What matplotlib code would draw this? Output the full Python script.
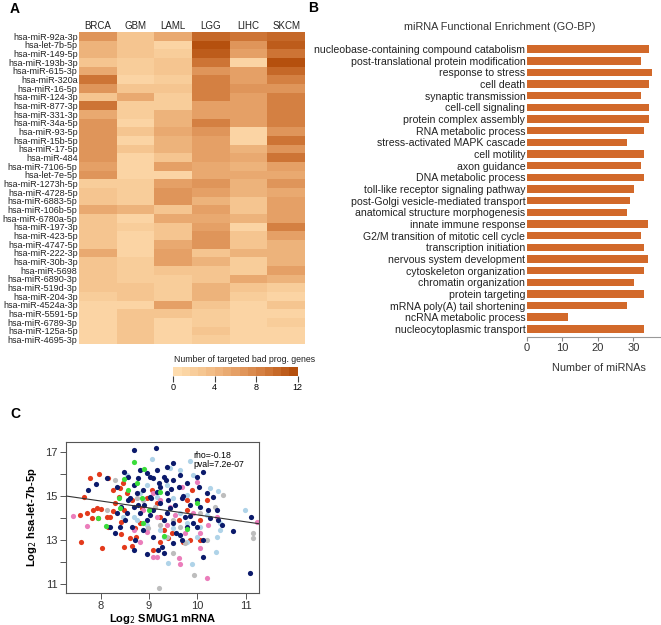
import numpy as np
import matplotlib
matplotlib.use("Agg")
import matplotlib.pyplot as plt
from matplotlib.colors import LinearSegmentedColormap
from matplotlib.ticker import FixedLocator

plt.rcParams['font.family'] = ['Liberation Sans', 'DejaVu Sans']

# ---------------- Panel A data ----------------
cancers = ["BRCA", "GBM", "LAML", "LGG", "LIHC", "SKCM"]
mirnas = ["hsa-miR-92a-3p", "hsa-let-7b-5p", "hsa-miR-149-5p", "hsa-miR-193b-3p",
          "hsa-miR-615-3p", "hsa-miR-320a", "hsa-miR-16-5p", "hsa-miR-124-3p",
          "hsa-miR-877-3p", "hsa-miR-331-3p", "hsa-miR-34a-5p", "hsa-miR-93-5p",
          "hsa-miR-15b-5p", "hsa-miR-17-5p", "hsa-miR-484", "hsa-miR-7106-5p",
          "hsa-let-7e-5p", "hsa-miR-1273h-5p", "hsa-miR-4728-5p", "hsa-miR-6883-5p",
          "hsa-miR-106b-5p", "hsa-miR-6780a-5p", "hsa-miR-197-3p", "hsa-miR-423-5p",
          "hsa-miR-4747-5p", "hsa-miR-222-3p", "hsa-miR-30b-3p", "hsa-miR-5698",
          "hsa-miR-6890-3p", "hsa-miR-519d-3p", "hsa-miR-204-3p", "hsa-miR-4524a-3p",
          "hsa-miR-5591-5p", "hsa-miR-6789-3p", "hsa-miR-125a-5p", "hsa-miR-4695-3p"]
heat_values = [
    [7, 3, 5, 10, 9, 10],
    [4, 3, 1, 12, 7, 11],
    [4, 3, 2, 11, 6, 9],
    [3, 2, 3, 9, 1, 12],
    [5, 2, 3, 7, 6, 10],
    [9, 1, 2, 8, 6, 8],
    [7, 3, 3, 8, 7, 7],
    [3, 5, 2, 8, 6, 8],
    [9, 2, 2, 6, 6, 8],
    [5, 2, 4, 6, 6, 8],
    [7, 1, 4, 8, 6, 8],
    [7, 3, 5, 7, 1, 7],
    [7, 1, 4, 6, 1, 9],
    [7, 3, 4, 6, 4, 7],
    [7, 1, 3, 6, 5, 9],
    [6, 1, 6, 5, 4, 6],
    [7, 1, 1, 5, 5, 5],
    [2, 2, 6, 7, 4, 7],
    [3, 2, 7, 6, 4, 5],
    [3, 2, 7, 4, 3, 6],
    [5, 4, 3, 6, 3, 6],
    [3, 1, 5, 5, 4, 6],
    [3, 2, 3, 6, 1, 8],
    [3, 1, 3, 7, 3, 6],
    [3, 1, 5, 7, 3, 4],
    [5, 1, 6, 3, 4, 4],
    [3, 2, 6, 4, 2, 4],
    [3, 2, 3, 3, 2, 6],
    [3, 2, 2, 3, 5, 4],
    [3, 3, 2, 4, 3, 2],
    [2, 3, 2, 4, 2, 1],
    [1, 1, 6, 3, 1, 3],
    [1, 3, 3, 2, 1, 1],
    [1, 3, 1, 2, 1, 2],
    [1, 3, 1, 3, 1, 1],
    [1, 3, 1, 2, 1, 1],
]
cbar_ticks = [0, 4, 8, 12]

# ---------------- Panel B data ----------------
go_terms = ["nucleobase-containing compound catabolism", "post-translational protein modification",
            "response to stress", "cell death", "synaptic transmission", "cell-cell signaling",
            "protein complex assembly", "RNA metabolic process", "stress-activated MAPK cascade",
            "cell motility", "axon guidance", "DNA metabolic process",
            "toll-like receptor signaling pathway", "post-Golgi vesicle-mediated transport",
            "anatomical structure morphogenesis", "innate immune response",
            "G2/M transition of mitotic cell cycle", "transcription initiation",
            "nervous system development", "cytoskeleton organization", "chromatin organization",
            "protein targeting", "mRNA poly(A) tail shortening", "ncRNA metabolic process",
            "nucleocytoplasmic transport"]
go_counts = [34.3, 32.1, 35.2, 34.3, 32.1, 34.3, 34.3, 33.1, 28.2, 33.1, 32.1, 33.1, 30.1,
             29.2, 28.2, 34.2, 32.1, 33.1, 34.2, 33.1, 30.1, 33.1, 28.2, 11.5, 33.1]
bar_ticks = [0, 10, 20, 30]

# ---------------- Panel C data ----------------
red_x = [7.77, 7.97, 8.15, 7.66, 7.57, 7.72, 7.85, 7.92, 8.0, 7.81, 7.95, 8.12, 8.02, 7.6, 8.16,
         8.19, 8.26, 8.3, 8.37, 8.26, 8.4, 8.47, 8.54, 8.64, 8.48, 8.41, 8.43, 8.48, 8.64, 8.61,
         8.74, 8.71, 8.81, 8.85, 8.95, 9.06, 9.16, 9.23, 9.3, 9.4, 9.47, 9.61, 9.78, 9.88, 9.78,
         10.06, 10.19, 9.85, 9.7, 9.09, 9.23, 10.06]
red_y = [15.79, 15.97, 15.79, 14.92, 14.12, 14.23, 14.35, 14.45, 14.39, 14.0, 14.0, 14.05, 12.62,
         12.88, 13.59, 14.05, 14.32, 14.65, 14.95, 15.26, 15.33, 15.56, 15.14, 14.8, 14.35, 13.82,
         13.26, 12.68, 12.71, 13.06, 13.14, 13.52, 13.74, 14.42, 14.88, 15.26, 14.65, 14.05, 13.44,
         13.06, 13.29, 13.89, 14.35, 15.26, 14.8, 13.89, 14.8, 12.98, 12.91, 12.53, 12.91, 12.98]
lblue_x = [9.06, 9.85, 8.54, 9.43, 9.64, 9.92, 10.26, 10.43, 10.19, 10.47, 10.4, 10.39, 9.4, 9.88,
           10.99, 8.81, 9.16, 9.5, 9.78, 8.68, 8.95, 9.23, 9.5, 9.78, 10.06, 9.99, 9.78, 8.75,
           8.47, 8.95, 9.37, 9.64, 9.3, 10.47]
lblue_y = [16.65, 16.58, 15.94, 16.24, 16.17, 15.94, 15.33, 15.23, 14.12, 13.74, 13.14, 12.45,
           11.92, 11.89, 14.35, 15.11, 14.95, 14.88, 15.03, 14.05, 13.67, 13.44, 13.52, 13.74,
           13.59, 13.14, 12.91, 13.89, 14.05, 15.48, 15.48, 14.2, 13.14, 13.44]
gray_x = [9.21, 9.93, 11.16, 11.16, 10.54, 10.37, 10.19, 8.12, 8.3, 8.88, 9.23, 9.5, 9.64, 9.12,
          9.37, 10.06, 9.5, 9.75, 8.75, 8.98]
gray_y = [10.82, 11.39, 13.29, 13.06, 15.03, 14.5, 12.98, 14.35, 15.71, 14.8, 13.67, 13.89, 13.59,
          14.5, 13.14, 14.2, 12.41, 12.83, 14.88, 13.52]
pink_x = [7.42, 7.72, 9.99, 9.68, 9.09, 9.23, 9.54, 9.75, 10.06, 10.22, 10.4, 11.23, 9.09, 9.16,
          9.61, 9.64, 10.19, 8.68, 8.81, 8.95, 9.37, 9.16, 9.92, 9.44, 10.06, 8.88]
pink_y = [14.08, 13.62, 15.64, 15.41, 15.11, 14.8, 14.12, 13.29, 13.29, 13.67, 14.05, 13.82, 12.23,
          12.23, 12.15, 11.89, 11.24, 13.44, 12.91, 13.36, 13.67, 14.05, 14.2, 14.5, 12.62, 14.35]
navy_x = [8.68, 9.14, 7.74, 7.91, 8.12, 8.19, 8.33, 8.48, 8.57, 8.68, 8.81, 8.95, 9.09, 9.16, 9.3,
          9.49, 9.23, 9.37, 9.5, 9.64, 9.78, 9.99, 10.12, 10.03, 10.19, 10.33, 10.4, 10.5, 10.74,
          11.12, 11.08, 10.12, 10.12, 9.92, 9.78, 9.64, 9.5, 9.37, 9.23, 9.09, 8.95, 8.81, 8.68,
          8.54, 8.43, 8.33, 8.3, 8.4, 8.68, 8.95, 9.19, 9.3, 9.26, 9.5, 9.68, 9.09, 8.88, 8.75,
          8.88, 9.02, 9.16, 9.4, 9.54, 9.68, 9.85, 9.99, 10.06, 10.22, 10.26, 10.43, 8.57, 8.64,
          8.78, 9.02, 9.3, 9.44, 9.75, 9.02, 9.37, 8.78, 9.61, 8.6, 8.9, 9.2, 9.45, 9.7, 8.5,
          9.55, 9.05, 9.85, 8.7, 9.35, 10.0]
navy_y = [17.1, 17.18, 15.26, 15.53, 15.79, 13.59, 15.41, 16.09, 15.86, 15.48, 16.17, 16.02, 15.79,
          16.17, 15.86, 16.47, 15.41, 15.11, 15.71, 15.94, 15.56, 15.86, 16.09, 15.41, 15.11,
          14.95, 14.35, 13.67, 13.41, 14.05, 11.47, 12.23, 12.98, 13.74, 13.59, 13.21, 13.74,
          14.2, 14.65, 14.35, 13.89, 14.2, 14.5, 14.2, 14.5, 14.2, 13.29, 13.59, 12.53, 12.35,
          12.53, 12.38, 12.68, 12.83, 12.98, 13.14, 13.44, 15.11, 15.26, 14.95, 15.18, 14.8,
          14.58, 14.88, 14.58, 14.8, 14.5, 14.35, 13.97, 13.89, 14.8, 13.59, 14.58, 14.12, 13.89,
          14.42, 14.05, 15.86, 16.32, 15.79, 15.41, 14.9, 14.6, 15.6, 15.3, 15.0, 13.9, 13.3,
          14.9, 14.1, 13.0, 15.7, 13.6]
green_x = [8.68, 8.9, 8.49, 8.37, 8.4, 7.94, 8.11, 8.57, 8.85, 8.99, 9.23, 9.99, 9.3, 9.78, 8.88,
           8.75]
green_y = [16.55, 16.23, 15.76, 14.88, 14.42, 14.0, 13.64, 15.26, 14.88, 14.35, 15.18, 14.68, 13.17,
           13.48, 13.74, 15.59]
fit_intercept = 17.284
fit_slope = -0.3154
rho_text = "rho=-0.18"
pval_text = "pval=7.2e-07"

# ---------------- Figure ----------------
W, H = 661, 625
fig = plt.figure(figsize=(W / 100, H / 100), dpi=100)

def fx(px):
    return px / W

def fy(py):
    return 1 - py / H

cmap = LinearSegmentedColormap.from_list(
    "peach", ["#FEDCAE", "#F4C28C", "#E5A066", "#D27B3C", "#B5500E"], N=15)

# ---- Panel A ----
axA = fig.add_axes([fx(79), fy(344), fx(305 - 79), (344 - 32) / H])
data = np.array(heat_values, dtype=float)
im = axA.imshow(data, cmap=cmap, vmin=0, vmax=12, aspect="auto", interpolation="nearest")
axA.set_xticks(np.arange(len(cancers)))
axA.set_xticklabels(cancers, fontsize=7, color="#222222")
axA.xaxis.tick_top()
axA.set_yticks(np.arange(len(mirnas)))
axA.set_yticklabels(mirnas, fontsize=6.5, color="#222222")
axA.tick_params(axis="y", length=0, pad=1)
axA.tick_params(axis="x", length=0, pad=1)
for s in axA.spines.values():
    s.set_visible(False)

caxA = fig.add_axes([fx(173.3), fy(375.7), fx(297.7 - 173.3), 8.4 / H])
cb = fig.colorbar(im, cax=caxA, orientation="horizontal", ticks=cbar_ticks)
cb.outline.set_visible(False)
caxA.tick_params(labelsize=6.5, length=4, width=0.8, color="#444444", pad=1)
fig.text(fx(173.5), fy(360), "Number of targeted bad prog. genes", fontsize=6.3,
         ha="left", va="center", color="#222222")

# ---- Panel B ----
axB = fig.add_axes([fx(526.7), fy(337), fx(660 - 526.7), (337 - 41) / H])
ypos = np.arange(len(go_terms))
axB.barh(ypos, go_counts, height=0.65, color="#D2692A")
axB.set_ylim(len(go_terms) - 1 + 0.69, -0.69)
axB.set_xlim(0, 37.5)
axB.set_yticks(ypos)
axB.set_yticklabels(go_terms, fontsize=7.6, color="#222222")
axB.tick_params(axis="y", length=0, pad=1)
axB.set_xticks(bar_ticks)
axB.tick_params(axis="x", labelsize=8, length=3, color="#888888", labelcolor="#333333", pad=1)
for k in ["top", "right", "left"]:
    axB.spines[k].set_visible(False)
axB.spines["bottom"].set_color("#999999")
fig.text(fx(500), fy(27), "miRNA Functional Enrichment (GO-BP)", fontsize=7.8,
         ha="center", va="center", color="#333333")
fig.text(fx(599), fy(368), "Number of miRNAs", fontsize=7.8, ha="center", va="center",
         color="#333333")

# ---- Panel C ----
axC = fig.add_axes([fx(65.7), fy(592.7), fx(258.7 - 65.7), (592.7 - 442.3) / H])
ms = 14
axC.scatter(red_x, red_y, s=ms, color="#E33A1C", linewidths=0, zorder=2)
axC.scatter(lblue_x, lblue_y, s=ms, color="#AFD3E8", linewidths=0, zorder=2)
axC.scatter(gray_x, gray_y, s=ms, color="#BDBDBD", linewidths=0, zorder=2)
axC.scatter(pink_x, pink_y, s=ms, color="#EB7DBB", linewidths=0, zorder=2)
axC.scatter(navy_x, navy_y, s=ms, color="#0B1A6B", linewidths=0, zorder=2)
axC.scatter(green_x, green_y, s=ms, color="#3BDD3B", linewidths=0, zorder=2)
axC.set_xlim(7.275, 11.27)
axC.set_ylim(10.59, 17.43)
xl = np.array(axC.get_xlim())
axC.plot(xl, fit_intercept + fit_slope * xl, color="#333333", lw=0.8, zorder=3)
axC.set_xticks([8, 9, 10, 11])
axC.set_yticks([11, 13, 15, 17])
axC.yaxis.set_minor_locator(FixedLocator([12, 14, 16]))
axC.tick_params(which="both", direction="out", length=4, width=0.7, color="#555555",
                labelsize=8, labelcolor="#333333", pad=2)
for s in axC.spines.values():
    s.set_color("#555555")
    s.set_linewidth(0.8)
axC.text(9.92, 16.85, rho_text, fontsize=6.3, ha="left", va="center")
axC.text(9.92, 16.42, pval_text, fontsize=6.3, ha="left", va="center")
axC.set_xlabel("Log$_2$ SMUG1 mRNA", fontsize=8, fontweight="bold", labelpad=1)
axC.set_ylabel("Log$_2$ hsa-let-7b-5p", fontsize=8, fontweight="bold", labelpad=4)

fig.text(fx(15), fy(9), "A", fontsize=10, fontweight="bold", ha="center", va="center")
fig.text(fx(313), fy(8), "B", fontsize=10, fontweight="bold", ha="center", va="center")
fig.text(fx(15), fy(414), "C", fontsize=10, fontweight="bold", ha="center", va="center")

fig.savefig("out.png", dpi=100)
